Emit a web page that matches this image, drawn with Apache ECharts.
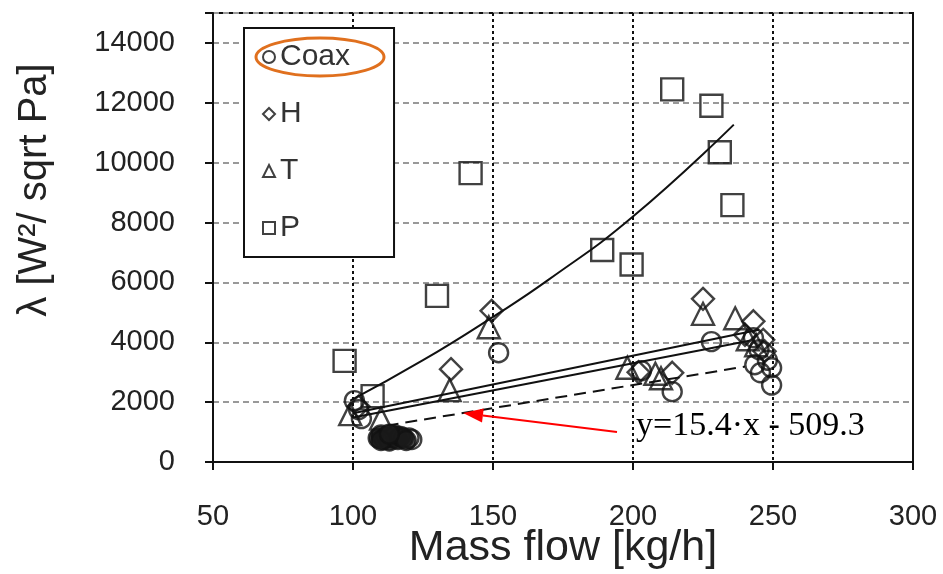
<!DOCTYPE html>
<html>
<head>
<meta charset="utf-8">
<script src="https://cdn.jsdelivr.net/npm/echarts@6/dist/echarts.min.js"></script>
<style>
  html, body { margin: 0; padding: 0; background: #fff; }
  #chart { width: 943px; height: 574px; }
</style>
</head>
<body>
<div id="chart"></div>
<script>
// Measured points, [mass flow kg/h, lambda]
const coax = [
  [100.5, 2050], [102, 1750], [103, 1450],
  [152, 3650], [203, 3050], [214, 2350], [228, 4020],
  [243, 4150], [245, 3750], [248, 3400], [243.5, 3250], [249.5, 3150],
  [245.5, 2980], [249.5, 2570], [120, 800], [121, 750]
];
// Densely overlapping low-flow Coax points
const coaxLowFlow = [
  [109, 800], [110, 900], [111, 750], [112, 850], [113, 700], [114, 800],
  [115, 900], [116, 750], [117, 850], [118, 800], [119, 720],
  [110, 720], [113, 930]
];
const hType = [
  [102, 1850], [135, 3100], [149.5, 5050], [202, 3000], [214, 2980],
  [225, 5450], [243, 4700], [240, 4250], [246.5, 4080], [247, 3700]
];
const tType = [
  [99, 1600], [110, 1450], [134.5, 2400], [148.5, 4500], [198, 3150],
  [208, 2950], [210, 2800], [225, 4950], [236.5, 4800], [241, 4100],
  [244, 3900]
];
const pType = [
  [97, 3380], [107, 2200], [130, 5550], [142, 9650], [189, 7080],
  [199.5, 6600], [214, 12450], [228, 11900], [231, 10350], [235.5, 8580]
];

// Trend lines
const pTrend = [[99, 2050], [125, 3400], [150, 4850], [170, 6100], [200, 8200], [236, 11270]];
const hTrend = [[100, 1630], [245, 4420]];
const tTrend = [[100, 1490], [242, 4060]];

// Fitted line quoted in the annotation
const fitSlope = 15.4;
const fitIntercept = -509.3;
const fitRange = [112, 240];

const xTicks = [50, 100, 150, 200, 250, 300];
const yTicks = [0, 2000, 4000, 6000, 8000, 10000, 12000, 14000];

const FONT = "'Liberation Sans', Arial, sans-serif";
const INK = '#111';

const fitLine = fitRange.map(x => [x, fitSlope * x + fitIntercept]);
const fitLabel = 'y=' + fitSlope + '·x - ' + Math.abs(fitIntercept);

function markerSeries(name, symbol, data, size, fill) {
  return {
    name: name,
    type: 'scatter',
    symbol: symbol,
    symbolSize: size,
    data: data,
    itemStyle: { color: fill || 'transparent', borderColor: INK, borderWidth: 2.4 },
    emphasis: { disabled: true },
    z: 3
  };
}
function trendSeries(data, dashed, smooth) {
  return {
    type: 'line',
    data: data,
    symbol: 'none',
    smooth: smooth ? 0.5 : false,
    lineStyle: { color: INK, width: 2, type: dashed ? [12, 7] : 'solid' },
    silent: true,
    z: 2
  };
}

const chart = echarts.init(document.getElementById('chart'), null, { renderer: 'canvas' });
chart.setOption({
  animation: false,
  backgroundColor: '#fff',
  grid: {
    left: 213, right: 30, top: 13, bottom: 112,
    outerBoundsMode: 'none', containLabel: false,
    show: true, borderColor: INK, borderWidth: 2
  },
  xAxis: {
    type: 'value', min: xTicks[0], max: xTicks[xTicks.length - 1], interval: 50,
    name: 'Mass flow [kg/h]', nameLocation: 'middle', nameGap: 65, nameMoveOverlap: false,
    nameTextStyle: { fontFamily: FONT, fontSize: 43, color: '#222' },
    axisLine: { lineStyle: { color: INK, width: 2 } },
    axisTick: { show: true, length: 8, lineStyle: { color: INK, width: 2 } },
    axisLabel: { fontFamily: FONT, fontSize: 29, color: '#222', margin: 40 },
    splitLine: { show: true, lineStyle: { color: INK, width: 2, type: [3, 3] } }
  },
  yAxis: {
    type: 'value', min: yTicks[0], max: 15000, interval: 2000,
    axisLine: { show: true, lineStyle: { color: INK, width: 2 } },
    axisTick: { show: true, length: 8, lineStyle: { color: INK, width: 2 } },
    axisLabel: {
      fontFamily: FONT, fontSize: 29, color: '#222', margin: 38,
      formatter: v => (yTicks.indexOf(v) >= 0 ? String(v) : '')
    },
    splitLine: { show: true, lineStyle: { color: '#999', width: 2, type: [6, 4] } }
  },
  legend: {
    orient: 'vertical', left: 244, top: 28,
    padding: [14, 44, 14, 18],
    itemGap: 27, itemWidth: 12, itemHeight: 12,
    backgroundColor: '#fff', borderColor: INK, borderWidth: 2, borderRadius: 0,
    textStyle: { fontFamily: FONT, fontSize: 30, color: '#333', lineHeight: 30 },
    itemStyle: { borderWidth: 2 },
    selectedMode: false,
    data: ['Coax', 'H', 'T', 'P']
  },
  series: [
    trendSeries(pTrend, false, true),
    trendSeries(hTrend, false, false),
    trendSeries(tTrend, false, false),
    trendSeries(fitLine, true, false),
    markerSeries('Coax', 'circle', coax, 19),
    markerSeries('H', 'diamond', hType, 22),
    markerSeries('T', 'triangle', tType, 22),
    markerSeries('P', 'rect', pType, 22),
    markerSeries('Coax', 'circle', coaxLowFlow, 19, '#1a1a1a')
  ]
});

// Annotation: arrow pointing at the fitted line, plus titles and the highlight ring
const tipX = 139.3;
const tip = chart.convertToPixel({ seriesIndex: 3 }, [tipX, fitSlope * tipX + fitIntercept]);
const tail = [617, 432];
const ang = Math.atan2(tail[1] - tip[1], tail[0] - tip[0]);
const headLen = 20, headHalf = 7;
const base = [tip[0] + headLen * Math.cos(ang), tip[1] + headLen * Math.sin(ang)];
const nx = -Math.sin(ang), ny = Math.cos(ang);

chart.setOption({
  graphic: [
    {
      type: 'line', silent: true, z: 10,
      shape: { x1: tail[0], y1: tail[1], x2: base[0], y2: base[1] },
      style: { stroke: '#ff0000', lineWidth: 2 }
    },
    {
      type: 'polygon', silent: true, z: 10,
      shape: { points: [tip, [base[0] + nx * headHalf, base[1] + ny * headHalf], [base[0] - nx * headHalf, base[1] - ny * headHalf]] },
      style: { fill: '#ff0000' }
    },
    {
      type: 'text', silent: true, z: 10, left: 636, top: 409,
      style: { text: fitLabel, font: "34px 'Liberation Serif', 'Times New Roman', serif", fill: '#000' }
    },
    {
      type: 'text', silent: true, z: 10, x: 35, y: 190, rotation: Math.PI / 2,
      style: {
        text: 'λ [W²/ sqrt Pa]', font: "40px 'Liberation Sans', Arial, sans-serif",
        fill: '#222', textAlign: 'center', textVerticalAlign: 'middle'
      }
    },
    {
      type: 'ellipse', silent: true, z: 10,
      shape: { cx: 320, cy: 57, rx: 64, ry: 19 },
      style: { fill: 'none', stroke: '#e0701e', lineWidth: 3 }
    }
  ]
});
</script>
</body>
</html>
